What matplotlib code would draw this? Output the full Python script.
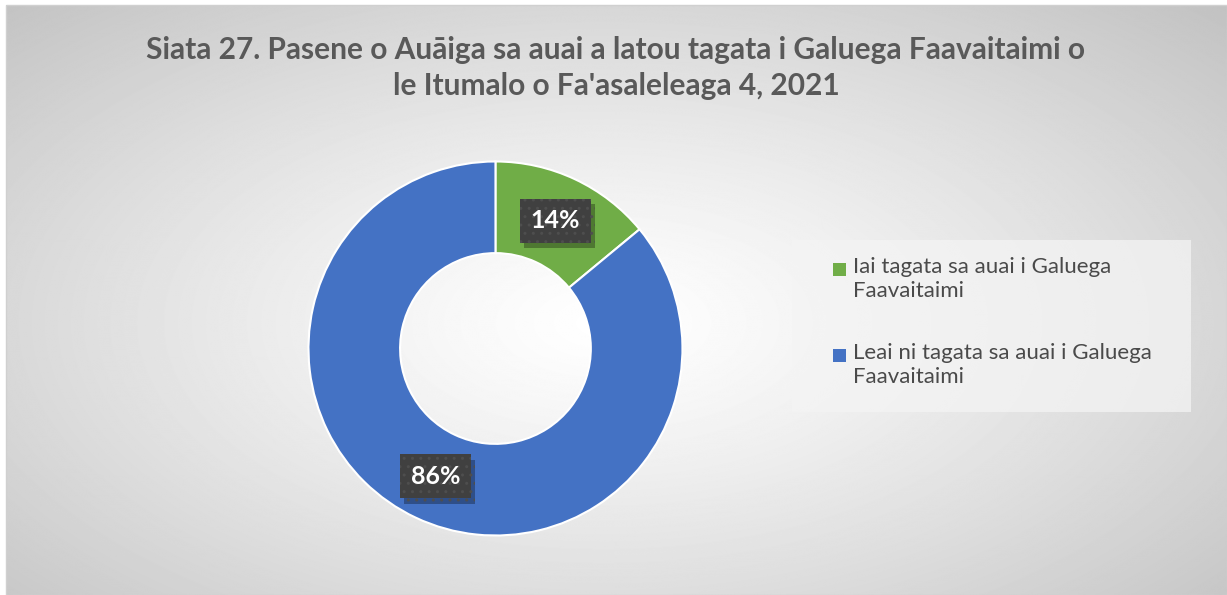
import numpy as np
import matplotlib.pyplot as plt
from matplotlib.patches import Rectangle
from matplotlib import patheffects

labels = ['Iai tagata sa auai i Galuega\nFaavaitaimi',
          'Leai ni tagata sa auai i Galuega\nFaavaitaimi']
values = [14, 86]
colors = ['#70ad47', '#4472c4']
title = ("Siata 27. Pasene o Auāiga sa auai a latou tagata i Galuega Faavaitaimi o\n"
         "le Itumalo o Fa'asaleleaga 4, 2021")

FONT = ['Lato', 'DejaVu Sans']
W, H = 1227, 595

fig = plt.figure(figsize=(W / 100, H / 100), dpi=100)

# background: radial grey gradient, white in the middle
bg = fig.add_axes([0, 0, 1, 1], zorder=0)
bg.set_xlim(0, W)
bg.set_ylim(H, 0)
bg.axis('off')
yy, xx = np.mgrid[0:H, 0:W]
d = np.hypot((xx - 600) / 620, (yy - 320) / 320) / np.sqrt(2)
shade = 1 - 0.24 * np.clip(d, 0, 1) ** 1.2
bg.imshow(shade, cmap='gray', vmin=0, vmax=1, extent=(6, W, H, 5),
          aspect='auto', interpolation='bilinear')
bg.add_patch(Rectangle((6, 5), W - 6, H - 5, fill=False, edgecolor='#d0d0d0', lw=1))

# title
bg.text(616, 68, title, ha='center', va='center', fontsize=21.5, fontweight='bold',
        color='#595959', family=FONT, linespacing=1.34)

# donut
ax = fig.add_axes([0.2514, 0.1, 0.3048, 0.6286], zorder=2)
wedges, texts, autotexts = ax.pie(
    values, colors=colors, startangle=90, counterclock=False,
    autopct='%d%%', pctdistance=0.755,
    wedgeprops=dict(width=0.49, edgecolor='white', linewidth=1.5))
ax.set_xlim(-1, 1)
ax.set_ylim(-1, 1)
ax.set_aspect('auto')

for t in autotexts:
    t.set_fontsize(18)
    t.set_fontweight('bold')
    t.set_family(FONT)
    t.set_color('white')
    t.set_zorder(4)
    t.set_bbox(dict(boxstyle='square,pad=0.42', facecolor='#404040',
                    edgecolor='#4e4e4e', hatch='..', linewidth=0))
    t.get_bbox_patch().set_path_effects([
        patheffects.SimplePatchShadow(offset=(3, -4), shadow_rgbFace='black', alpha=0.3),
        patheffects.Normal()])

# legend
bg.add_patch(Rectangle((792, 240), 399, 172, facecolor='#f4f4f4', alpha=0.75,
                       edgecolor='none', zorder=2))
entry_y = [257, 343]
for lab, col, y in zip(labels, colors, entry_y):
    bg.add_patch(Rectangle((833, y + 6), 13, 13, facecolor=col, edgecolor='none', zorder=3))
    bg.text(853, y, lab, ha='left', va='top', fontsize=16, color='#4a4a4a',
            family=FONT, linespacing=1.26, zorder=3)

fig.savefig('out.png', dpi=100)
